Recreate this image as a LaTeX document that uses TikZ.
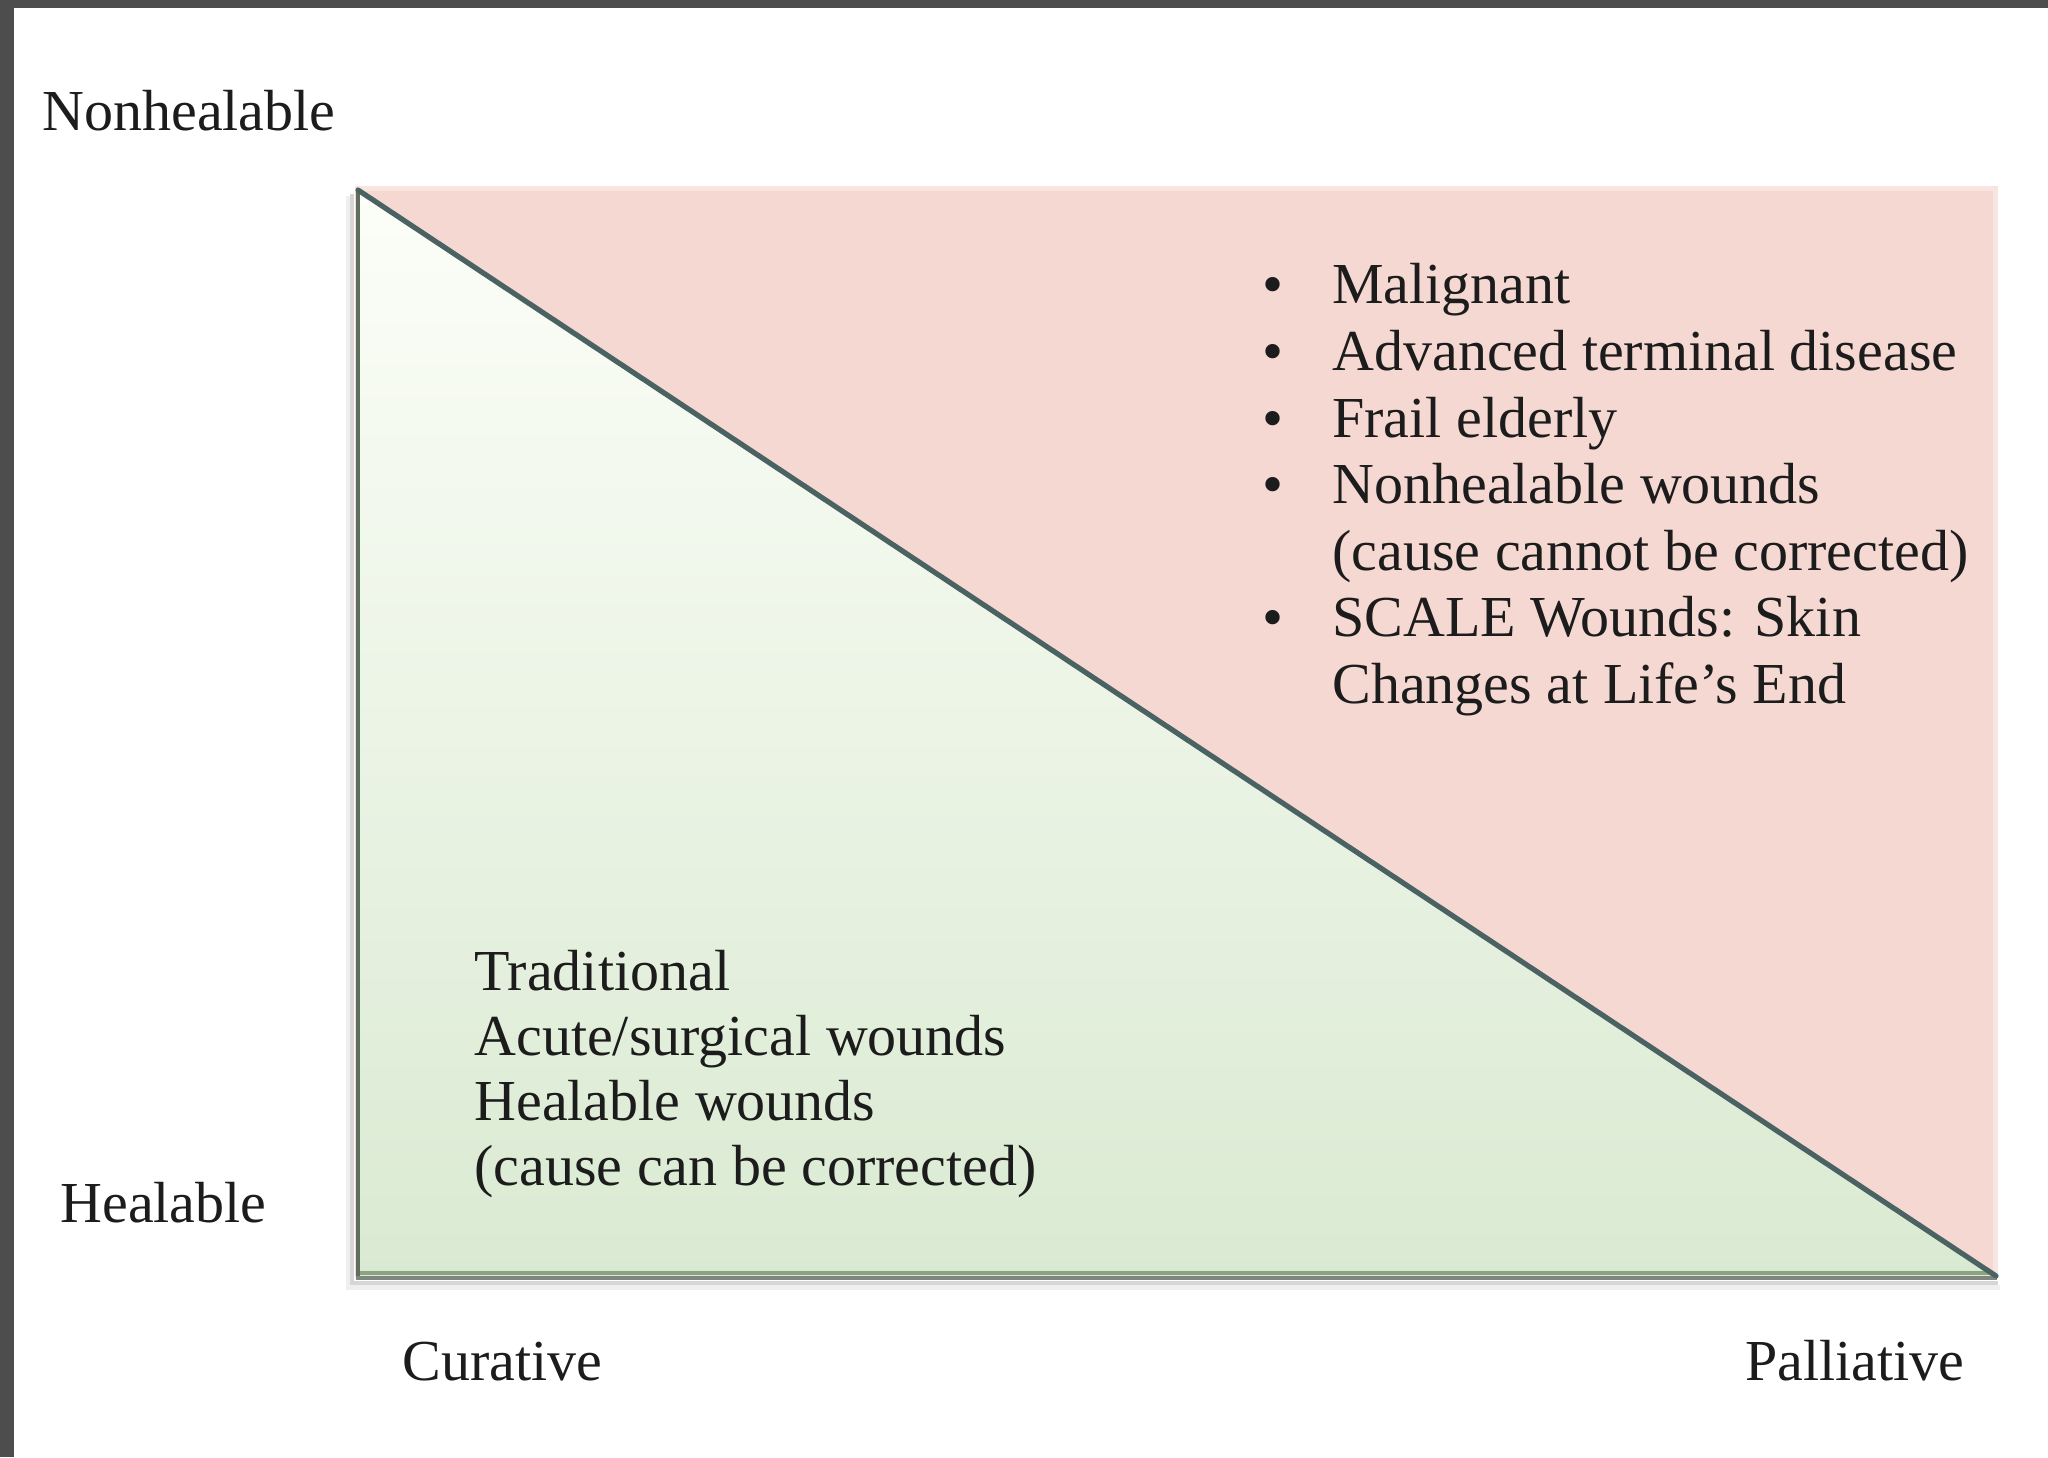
\documentclass[tikz,border=0pt]{standalone}
\usepackage{fontspec}
\setmainfont{Liberation Serif}
\definecolor{framegray}{HTML}{4D4D4D}
\definecolor{pinkfill}{HTML}{F5D8D2}
\definecolor{pinkedge}{HTML}{F8E5E0}
\definecolor{greentop}{HTML}{FCFEF8}
\definecolor{greenbot}{HTML}{DAEAD2}
\definecolor{leftcol}{HTML}{5E6E5E}
\definecolor{hypcol}{HTML}{4A6262}
\definecolor{botup}{HTML}{8CA082}
\definecolor{botlow}{HTML}{7E867E}
\definecolor{shadowA}{HTML}{D6D6D6}
\definecolor{shadowB}{HTML}{EFEFEF}
\definecolor{txtcol}{HTML}{1C1C1C}
\begin{document}
\begin{tikzpicture}[x=0.5pt,y=-0.5pt,
  txt/.style={anchor=base west, inner sep=0pt, text=txtcol, font=\fontsize{29pt}{33pt}\selectfont},
  bul/.style={anchor=center, inner sep=0pt, text=txtcol, font=\fontsize{30pt}{30pt}\selectfont}]
\useasboundingbox (0,0) rectangle (2048,1457);
\fill[white] (0,0) rectangle (2048,1457);
% frame
\fill[framegray] (0,0) rectangle (2048,8);
\fill[framegray] (0,0) rectangle (14,1457);
% pink region
\fill[pinkfill] (355,186) rectangle (1998,1277);
\fill[pinkedge] (355,186) rectangle (1998,191);
\fill[pinkedge] (1993,186) rectangle (1998,1277);
% shadow
\draw[shadowB, line width=2.5pt] (348,196) -- (348,1287) -- (2000,1287);
\draw[shadowA, line width=2pt] (352,194) -- (352,1283) -- (1998,1283);
% triangle
\coordinate (tl) at (358,190);
\coordinate (bl) at (358,1276);
\coordinate (br) at (1996,1276);
\shade[top color=greentop, bottom color=greenbot] (tl) -- (br) -- (bl) -- cycle;
\draw[botup, line width=2pt] (358,1273) -- (1994,1273);
\draw[botlow, line width=2pt] (356,1278) -- (1997,1278);
\draw[leftcol, line width=2pt] (tl) -- (bl);
\draw[hypcol, line width=2.6pt, line cap=round] (tl) -- (br);
% axis labels
\node[txt] (nonheal) at (42,130) {Nonhealable};
\node[txt] (heal) at (60,1222) {Healable};
\node[txt] (cur) at (402,1380) {Curative};
\node[txt] (pal) at (1745,1380) {Palliative};
% right list
\node[bul] (b1) at (1273,291) {•};
\node[txt] (r1) at (1332,303) {Malignant};
\node[bul] (b2) at (1273,358) {•};
\node[txt] (r2) at (1332,370) {Advanced terminal disease};
\node[bul] (b3) at (1273,425) {•};
\node[txt] (r3) at (1332,437) {Frail elderly};
\node[bul] (b4) at (1273,491) {•};
\node[txt] (r4) at (1332,503) {Nonhealable wounds};
\node[txt] (r5) at (1332,570) {(cause cannot be corrected)};
\node[bul] (b5) at (1273,624) {•};
\node[txt] (r6) at (1332,636) {SCALE Wounds: Skin};
\node[txt] (r7) at (1332,703) {Changes at Life’s End};
% left text
\node[txt] (l1) at (474,990) {Traditional};
\node[txt] (l2) at (474,1055) {Acute/surgical wounds};
\node[txt] (l3) at (474,1120) {Healable wounds};
\node[txt] (l4) at (474,1185) {(cause can be corrected)};
\end{tikzpicture}
\end{document}
